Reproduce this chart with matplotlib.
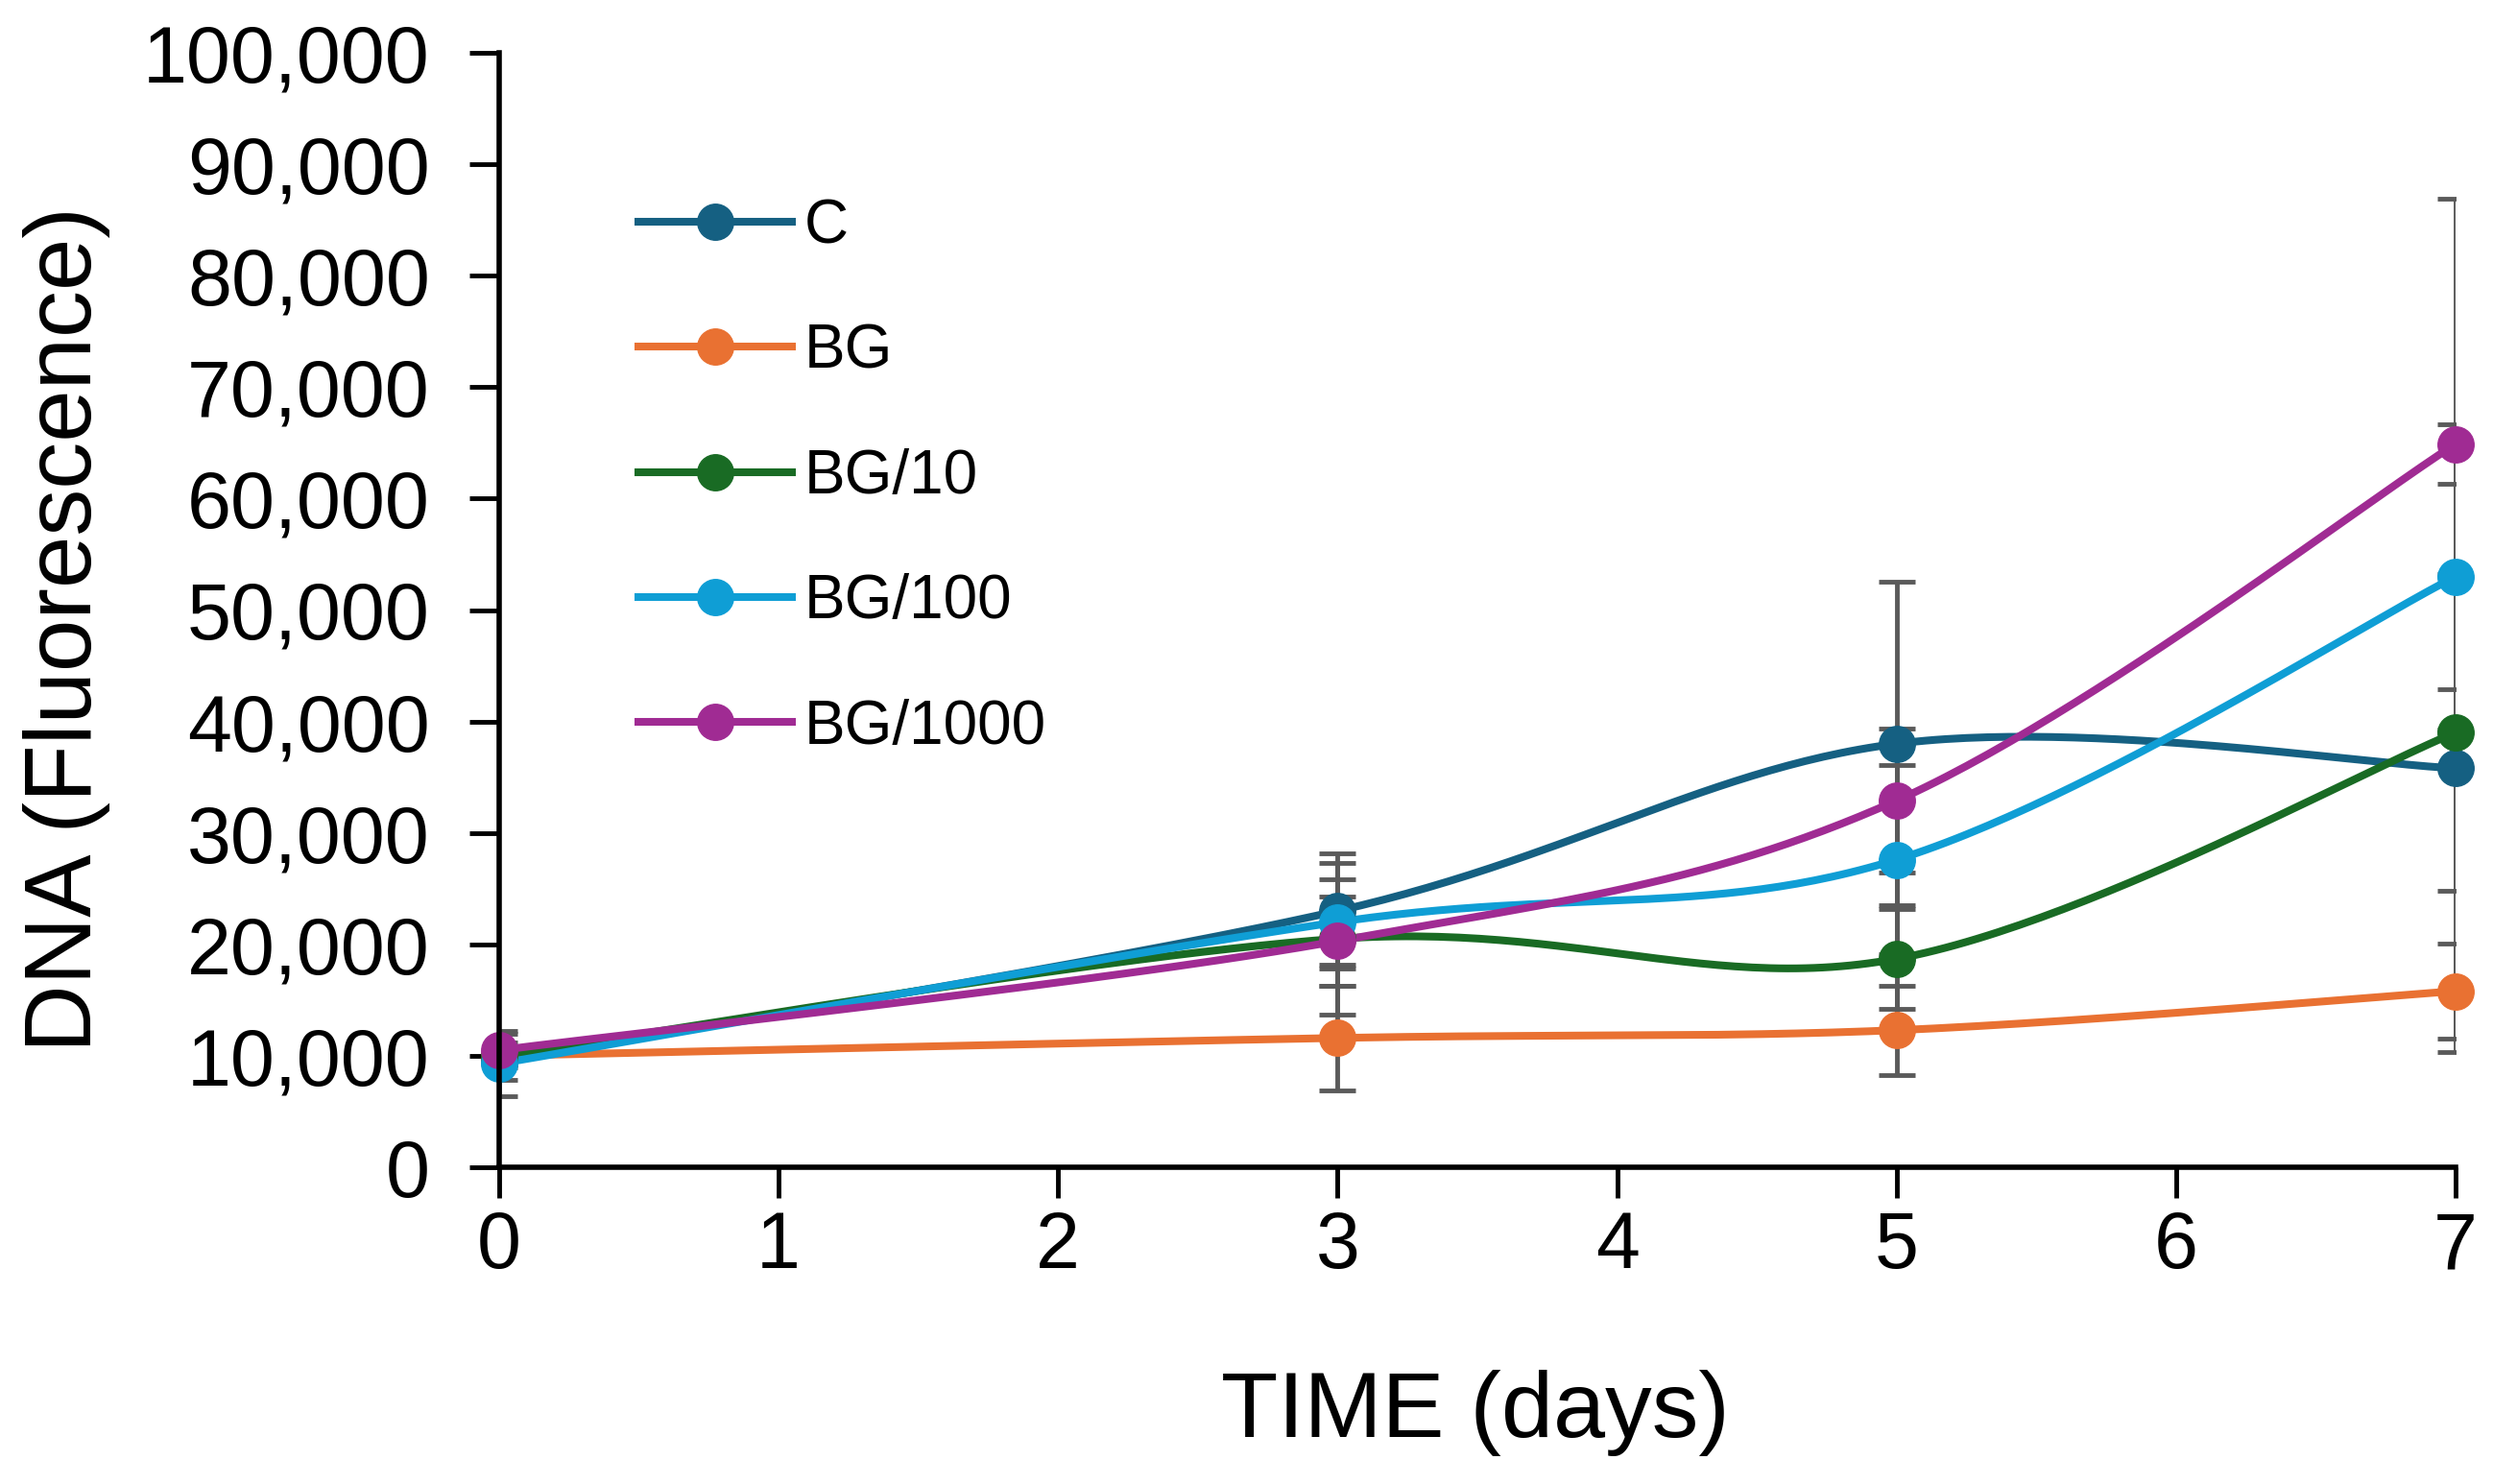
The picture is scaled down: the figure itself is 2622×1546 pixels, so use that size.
import numpy as np
import matplotlib
matplotlib.use("Agg")
import matplotlib.pyplot as plt
from matplotlib.lines import Line2D
from matplotlib.ticker import FuncFormatter, MultipleLocator

plt.rcParams['font.family'] = ['Liberation Sans', 'DejaVu Sans']

# ---- data ----
days = [0, 3, 5, 7]
series_names = ["C", "BG", "BG/10", "BG/100", "BG/1000"]
C_vals = [9500, 23000, 38000, 35800]
BG_vals = [10000, 11600, 12300, 15800]
BG10_vals = [10000, 20500, 18700, 39000]
BG100_vals = [9300, 22000, 27600, 53000]
BG1000_vals = [10500, 20300, 32900, 64900]

C_err = [1700, 5200, 14500, 25500]
BG_err = [800, 4700, 4000, 4300]
BG10_err = [800, 6800, 4500, 14200]
BG100_err = [2900, 3800, 8500, 13700]
BG1000_err = [1500, 4000, 6500, 22000]

colors = ["#156082", "#E97132", "#196B24", "#0F9ED5", "#A02B93"]
x_ticks = [0, 1, 2, 3, 4, 5, 6, 7]
x_label = "TIME (days)"
y_label = "DNA (Fluorescence)"

values = [C_vals, BG_vals, BG10_vals, BG100_vals, BG1000_vals]
errors = [C_err, BG_err, BG10_err, BG100_err, BG1000_err]


def excel_smooth(x, y, n=60):
    """Catmull-Rom style Bezier smoothing similar to Excel's smoothed lines."""
    P = np.column_stack([np.asarray(x, float), np.asarray(y, float)])
    m = len(P)
    out = []
    for i in range(m - 1):
        p_prev = P[i - 1] if i > 0 else P[i]
        p0 = P[i]
        p1 = P[i + 1]
        p_next = P[i + 2] if i + 2 < m else P[i + 1]
        c1 = p0 + (p1 - p_prev) / 6.0
        c2 = p1 - (p_next - p0) / 6.0
        t = np.linspace(0, 1, n)[:, None]
        seg = ((1 - t) ** 3) * p0 + 3 * ((1 - t) ** 2) * t * c1 + 3 * (1 - t) * t ** 2 * c2 + t ** 3 * p1
        if i > 0:
            seg = seg[1:]
        out.append(seg)
    out = np.vstack(out)
    return out[:, 0], out[:, 1]


W, H = 2622, 1546
fig = plt.figure(figsize=(W / 100, H / 100), dpi=100)
x0p, x7p, y0p, ytp = 520, 2558, 1216, 55
ax = fig.add_axes([x0p / W, 1 - y0p / H, (x7p - x0p) / W, (y0p - ytp) / H])

lw = 5.8
ms = 27
for vals, errs, col in zip(values, errors, colors):
    ax.errorbar(days, vals, yerr=errs, fmt='none', ecolor='#5a5a5a',
                elinewidth=3.5, capsize=14, capthick=3.5, zorder=2)
for vals, col in zip(values, colors):
    sx, sy = excel_smooth(days, vals)
    ax.plot(sx, sy, color=col, lw=lw, zorder=3, solid_capstyle='round')
    ax.plot(days, vals, 'o', color=col, ms=ms, zorder=4, clip_on=False, mec=col)

ax.set_xlim(0, 7)
ax.set_ylim(0, 100000)
ax.set_xticks(x_ticks)
ax.yaxis.set_major_locator(MultipleLocator(10000))
ax.yaxis.set_major_formatter(FuncFormatter(lambda v, p: f"{int(round(v)):,}"))

for s in ['top', 'right']:
    ax.spines[s].set_visible(False)
for s in ['left', 'bottom']:
    ax.spines[s].set_linewidth(4)
    ax.spines[s].set_color('black')
    ax.spines[s].set_zorder(5)

ax.tick_params(axis='y', direction='out', length=22, width=3.5, pad=30, labelsize=59.5)
ax.tick_params(axis='x', direction='out', length=23, width=3.5, pad=9, labelsize=59.5)

fig.text(70 / W, 1 - 655 / H, y_label, rotation=90, ha='center', va='center', fontsize=70.5)
fig.text(1537 / W, 1 - 1472 / H, x_label, ha='center', va='center', fontsize=70)

handles = [Line2D([], [], color=c, lw=lw, marker='o', ms=ms, mec=c) for c in colors]
leg = fig.legend(handles, series_names, loc='center left',
                 bbox_to_anchor=(665 / W, 1 - 497 / H), bbox_transform=fig.transFigure,
                 frameon=False, fontsize=46, handlelength=2.5, handletextpad=0.2,
                 labelspacing=1.1, borderpad=0, borderaxespad=0, numpoints=1)

fig.savefig("out.png", dpi=100, facecolor='white')
